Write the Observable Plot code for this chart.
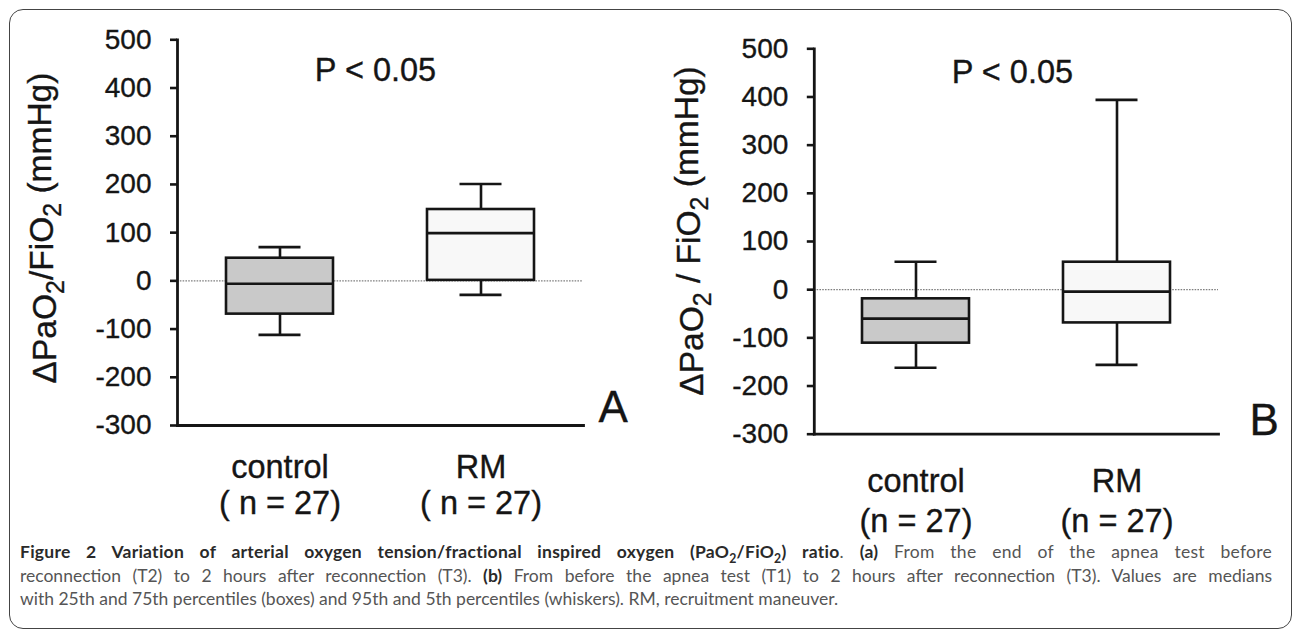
<!DOCTYPE html>
<html>
<head>
<meta charset="utf-8">
<script src="https://cdn.jsdelivr.net/npm/d3@7"></script>
<script src="https://cdn.jsdelivr.net/npm/@observablehq/plot@0.6"></script>
<style>
  html, body { margin: 0; padding: 0; background: #fff; }
  #root { position: relative; width: 1292px; height: 630px; overflow: hidden; background: #fff; }
  #frame { position: absolute; left: 9px; top: 9px; width: 1283px; height: 620px; box-sizing: border-box;
           border: 1.5px solid #444; border-radius: 14px; }
  .panel { position: absolute; top: 0; }
  .panel svg text { stroke: #151515; stroke-width: 0.35px; }
  #caption { position: absolute; left: 20px; top: 540px; width: 1252px; font-family: Lato, "Open Sans", sans-serif;
             font-size: 17.5px; line-height: 23.5px; color: #555; }
  #caption div { text-align: justify; text-align-last: justify; white-space: nowrap; }
  #caption div.first { letter-spacing: 0.25px; }
  #caption div.last { text-align-last: left; }
  #caption b { color: #2a2a2a; }
  #caption sub { font-size: 70%; line-height: 0; }
</style>
</head>
<body>
<div id="root">
  <div id="frame"></div>
  <div id="panelA" class="panel" style="left:0px"></div>
  <div id="panelB" class="panel" style="left:640px"></div>
  <div id="caption">
    <div class="first"><b>Figure 2 Variation of arterial oxygen tension/fractional inspired oxygen (PaO<sub>2</sub>/FiO<sub>2</sub>) ratio</b>. <b>(a)</b> From the end of the apnea test before</div>
    <div>reconnection (T2) to 2 hours after reconnection (T3). <b>(b)</b> From before the apnea test (T1) to 2 hours after reconnection (T3). Values are medians</div>
    <div class="last">with 25th and 75th percentiles (boxes) and 95th and 5th percentiles (whiskers). RM, recruitment maneuver.</div>
  </div>
</div>
<script>
// ---- data ----
const groups = ["control", "RM"];
const yTicks = [-300, -200, -100, 0, 100, 200, 300, 400, 500];

// Panel A
const aLow  = [-112, -29];
const aQ1   = [-69, 1];
const aMed  = [-6, 99];
const aQ3   = [47, 148];
const aHigh = [70, 201];
const aCatLabels = ["control\n( n = 27)", "RM\n( n = 27)"];
const aYLabel = [["ΔPaO", false], ["2", true], ["/FiO", false], ["2", true], [" (mmHg)", false]];

// Panel B
const bLow  = [-162, -156];
const bQ1   = [-111, -69];
const bMed  = [-60, -4];
const bQ3   = [-19, 57];
const bHigh = [58, 394];
const bCatLabels = ["control\n(n = 27)", "RM\n(n = 27)"];
const bYLabel = [["ΔPaO", false], ["2", true], [" / FiO", false], ["2", true], [" (mmHg)", false]];

const pText = ["P < 0.05"];
const fills = ["#c9c9c9", "#f8f8f8"];

function makePanel(opts) {
  const table = groups.map((g, i) => ({
    g, low: opts.low[i], q1: opts.q1[i], med: opts.med[i], q3: opts.q3[i], high: opts.high[i]
  }));
  const labelOf = new Map(groups.map((g, i) => [g, opts.cats[i]]));
  const ink = "#151515";
  const sw = 2.6;
  const svg = Plot.plot({
    width: opts.width,
    height: opts.height,
    marginLeft: opts.ml,
    marginRight: opts.mr,
    marginTop: opts.mt,
    marginBottom: opts.mb,
    style: { fontFamily: "'Liberation Sans', Arial, sans-serif", color: ink, background: "transparent", overflow: "visible" },
    x: { type: "band", domain: groups, paddingInner: 0.47, paddingOuter: 0.24, label: null },
    y: { domain: [-300, 500], label: null },
    color: { domain: groups, range: fills },
    marks: [
      Plot.ruleY([0], { stroke: "#808080", strokeWidth: 1.2, strokeDasharray: "1.6,1.2" }),
      Plot.ruleX(table, { x: "g", y1: "low", y2: "high", stroke: ink, strokeWidth: sw }),
      Plot.tickY(table, { x: "g", y: "high", stroke: ink, strokeWidth: sw, insetLeft: 32.5, insetRight: 32.5 }),
      Plot.tickY(table, { x: "g", y: "low", stroke: ink, strokeWidth: sw, insetLeft: 32.5, insetRight: 32.5 }),
      Plot.barY(table, { x: "g", y1: "q1", y2: "q3", fill: "g", stroke: ink, strokeWidth: sw }),
      Plot.tickY(table, { x: "g", y: "med", stroke: ink, strokeWidth: sw }),
      Plot.frame({ anchor: "left", stroke: ink, strokeWidth: 2.8 }),
      Plot.frame({ anchor: "bottom", stroke: ink, strokeWidth: 2.8 }),
      Plot.axisY({ ticks: yTicks, tickFormat: d => String(d), tickSize: 7, tickPadding: 19, fontSize: 28, strokeWidth: 2.6, label: null }),
      Plot.axisX({ tickSize: 0, tickPadding: opts.cpad, fontSize: 32.5, lineHeight: opts.lh, tickFormat: d => labelOf.get(d), label: null }),
      Plot.text(pText, { frameAnchor: "top", dx: opts.pdx, dy: opts.pdy, fontSize: 32.5, fill: ink }),
      Plot.text([opts.letter], { frameAnchor: "bottom-right", textAnchor: "start", lineAnchor: "bottom", dx: opts.ldx, dy: opts.ldy, fontSize: 44, fill: ink })
    ]
  });
  // rotated y-axis title with subscripts
  const t = d3.select(svg).append("text")
    .attr("transform", `translate(${opts.yx},${opts.yy}) rotate(-90)`)
    .attr("text-anchor", "middle")
    .attr("font-size", 33.5)
    .attr("fill", ink);
  let prevSub = false;
  opts.ylabel.forEach(([s, sub]) => {
    const ts = t.append("tspan").text(s);
    if (sub) ts.attr("font-size", 25).attr("dy", "0.3em");
    else if (prevSub) ts.attr("dy", "-0.3em");
    prevSub = sub;
  });
  return svg;
}

document.getElementById("panelA").appendChild(makePanel({
  width: 640, height: 530, ml: 177, mr: 57, mt: 39.3, mb: 105,
  low: aLow, q1: aQ1, med: aMed, q3: aQ3, high: aHigh, cats: aCatLabels, lh: 1.08, cpad: 28,
  letter: "A", ldx: 15, ldy: -4, pdx: -5, pdy: 18, ylabel: aYLabel, yx: 56, yy: 228
}));
document.getElementById("panelB").appendChild(makePanel({
  width: 652, height: 540, ml: 173.8, mr: 74, mt: 48.3, mb: 106.3,
  low: bLow, q1: bQ1, med: bMed, q3: bQ3, high: bHigh, cats: bCatLabels, lh: 1.23, cpad: 29,
  letter: "B", ldx: 31, ldy: 1, pdx: -4, pdy: 11, ylabel: bYLabel, yx: 63, yy: 231
}));
</script>
</body>
</html>
